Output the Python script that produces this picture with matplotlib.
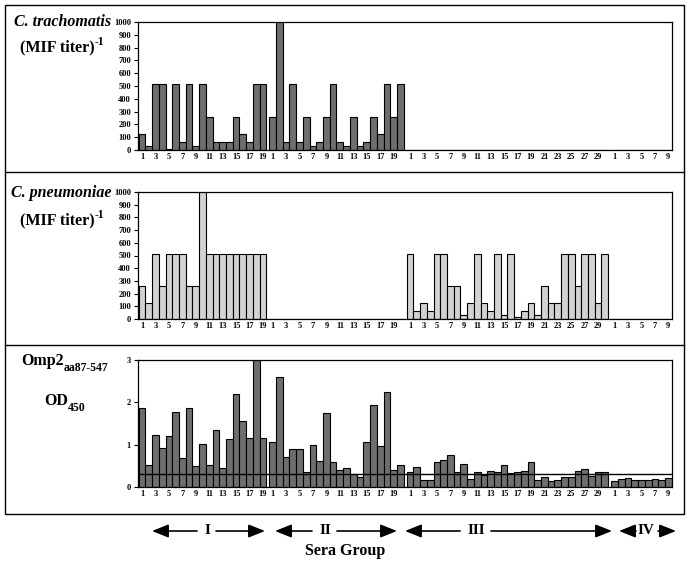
import numpy as np
import matplotlib
matplotlib.use("Agg")
import matplotlib.pyplot as plt
from matplotlib.patches import FancyArrowPatch, Rectangle
from matplotlib.lines import Line2D

plt.rcParams['font.family'] = ['Liberation Serif', 'DejaVu Serif']
plt.rcParams['font.weight'] = 'bold'

# Data
groups = ['I', 'II', 'III', 'IV']

trach_I = [128, 32, 512, 512, 8, 512, 64, 512, 32, 512, 256, 64, 64, 64, 256, 128, 64, 512, 512]
trach_II = [256, 1024, 64, 512, 64, 256, 32, 64, 256, 512, 64, 32, 256, 32, 64, 256, 128, 512, 256, 512]
trach_III = [0, 0, 0, 0, 0, 0, 0, 0, 0, 0, 0, 0, 0, 0, 0, 0, 0, 0, 0, 0, 0, 0, 0, 0, 0, 0, 0, 0, 0, 0]
trach_IV = [0, 0, 0, 0, 0, 0, 0, 0, 0]

pneu_I = [256, 128, 512, 256, 512, 512, 512, 256, 256, 1024, 512, 512, 512, 512, 512, 512, 512, 512, 512]
pneu_II = [0, 0, 0, 0, 0, 0, 0, 0, 0, 0, 0, 0, 0, 0, 0, 0, 0, 0, 0, 0]
pneu_III = [512, 64, 128, 64, 512, 512, 256, 256, 32, 128, 512, 128, 64, 512, 32,
            512, 16, 64, 128, 32, 256, 128, 128, 512, 512, 256, 512, 512, 128, 512]
pneu_IV = [0, 0, 0, 0, 0, 0, 0, 0, 0]

omp_I = [1.87, 0.53, 1.23, 0.92, 1.20, 1.78, 0.68, 1.87, 0.50, 1.02, 0.52, 1.35, 0.46, 1.13,
         2.20, 1.56, 1.15, 3.00, 1.16]
omp_II = [1.07, 2.60, 0.72, 0.89, 0.90, 0.36, 0.99, 0.61, 1.74, 0.60, 0.39, 0.46, 0.31, 0.23,
          1.07, 1.94, 0.98, 2.24, 0.39, 0.51]
omp_III = [0.35, 0.48, 0.16, 0.16, 0.58, 0.63, 0.76, 0.36, 0.54, 0.18, 0.36, 0.28, 0.38, 0.35, 0.52,
           0.34, 0.36, 0.38, 0.58, 0.16, 0.23, 0.15, 0.16, 0.23, 0.23, 0.38, 0.42, 0.27, 0.35, 0.35]
omp_IV = [0.14, 0.18, 0.22, 0.16, 0.16, 0.17, 0.19, 0.16, 0.22]
cutoff = 0.30

# x positions: groups side by side with a small gap
gap = 0.45
sizes = [len(trach_I), len(trach_II), len(trach_III), len(trach_IV)]
xpos = []
ticks = []
ticklabels = []
start = 0.0
for n in sizes:
    xs = start + np.arange(n)
    xpos.append(xs)
    for k in range(0, n, 2):
        ticks.append(xs[k])
        ticklabels.append(str(k + 1))
    start = xs[-1] + 1 + gap
x_all = np.concatenate(xpos)

W, H = 690, 564
fig = plt.figure(figsize=(W / 100, H / 100), dpi=100)

def fx(px):
    return px / W

def fy(py):
    return 1 - py / H

left, right = 138, 672
panels = [
    (22, 150, trach_I + trach_II + trach_III + trach_IV, '#6e6e6e', 1000, np.arange(0, 1001, 100)),
    (192, 319, pneu_I + pneu_II + pneu_III + pneu_IV, '#d2d2d2', 1000, np.arange(0, 1001, 100)),
    (360, 487, omp_I + omp_II + omp_III + omp_IV, '#6e6e6e', 3, [0, 1, 2, 3]),
]

axes = []
for top, bot, vals, col, ymax, yt in panels:
    ax = fig.add_axes([fx(left), fy(bot), fx(right) - fx(left), fy(top) - fy(bot)])
    ax.bar(x_all, vals, width=1.0, color=col, edgecolor='black', linewidth=0.8)
    ax.set_xlim(-0.6, x_all[-1] + 0.55)
    ax.set_ylim(0, ymax)
    ax.set_yticks(yt)
    ax.set_xticks(ticks)
    ax.set_xticklabels(ticklabels)
    ax.tick_params(axis='x', length=0, pad=2, labelsize=6)
    ax.tick_params(axis='y', length=3, width=0.8, pad=2, labelsize=6)
    for s in ax.spines.values():
        s.set_linewidth(0.9)
    axes.append(ax)

axes[2].axhline(cutoff, color='black', lw=1.0)

# left-hand labels
fs = 11.5
t = fig.text(fx(63), fy(22), 'C. trachomatis', ha='center', va='center', fontsize=fs,
             fontstyle='italic', fontweight='bold')
t = fig.text(fx(57), fy(47), '(MIF titer)', ha='center', va='center', fontsize=fs, fontweight='bold')
axes[0].annotate('-1', xy=(1, 0.8), xycoords=t, ha='left', va='center', fontsize=8.5,
                 fontweight='bold', annotation_clip=False)

t = fig.text(fx(61), fy(193), 'C. pneumoniae', ha='center', va='center', fontsize=fs,
             fontstyle='italic', fontweight='bold')
t = fig.text(fx(57), fy(220), '(MIF titer)', ha='center', va='center', fontsize=fs, fontweight='bold')
axes[1].annotate('-1', xy=(1, 0.8), xycoords=t, ha='left', va='center', fontsize=8.5,
                 fontweight='bold', annotation_clip=False)

t = fig.text(fx(21), fy(361), 'Omp2', ha='left', va='center', fontsize=fs, fontweight='bold')
axes[2].annotate('aa87-547', xy=(1, 0.05), xycoords=t, ha='left', va='center', fontsize=8.5,
                 fontweight='bold', annotation_clip=False)
t = fig.text(fx(44), fy(401), 'OD', ha='left', va='center', fontsize=fs, fontweight='bold')
axes[2].annotate('450', xy=(1, 0.05), xycoords=t, ha='left', va='center', fontsize=8.5,
                 fontweight='bold', annotation_clip=False)

# frame and separators
fig.add_artist(Rectangle((fx(5), fy(514)), fx(684) - fx(5), fy(5) - fy(514),
                         transform=fig.transFigure, fill=False, edgecolor='black', lw=1.0))
for yy in [172, 345]:
    fig.add_artist(Line2D([fx(5), fx(684)], [fy(yy), fy(yy)], transform=fig.transFigure,
                          color='black', lw=1.0))

# group arrows
arrow_y = fy(531)
arrows = [
    ('I', 207, 197, 152, 216, 265),
    ('II', 325, 312, 275, 337, 397),
    ('III', 476, 460, 405, 491, 612),
    ('IV', 646, 636, 619, 658, 676),
]
for lab, xl, a0, a1, b0, b1 in arrows:
    fig.text(fx(xl), arrow_y, lab, ha='center', va='center', fontsize=11, fontweight='bold')
    for p0, p1 in [(a0, a1), (b0, b1)]:
        fig.add_artist(FancyArrowPatch((fx(p0), arrow_y), (fx(p1), arrow_y),
                                       transform=fig.transFigure,
                                       arrowstyle='-|>,head_length=1.0,head_width=0.4',
                                       mutation_scale=10, color='black', lw=1.2,
                                       shrinkA=0, shrinkB=0))

fig.text(fx(345), fy(551), 'Sera Group', ha='center', va='center', fontsize=11.5, fontweight='bold')

fig.savefig('out.png', dpi=100)
